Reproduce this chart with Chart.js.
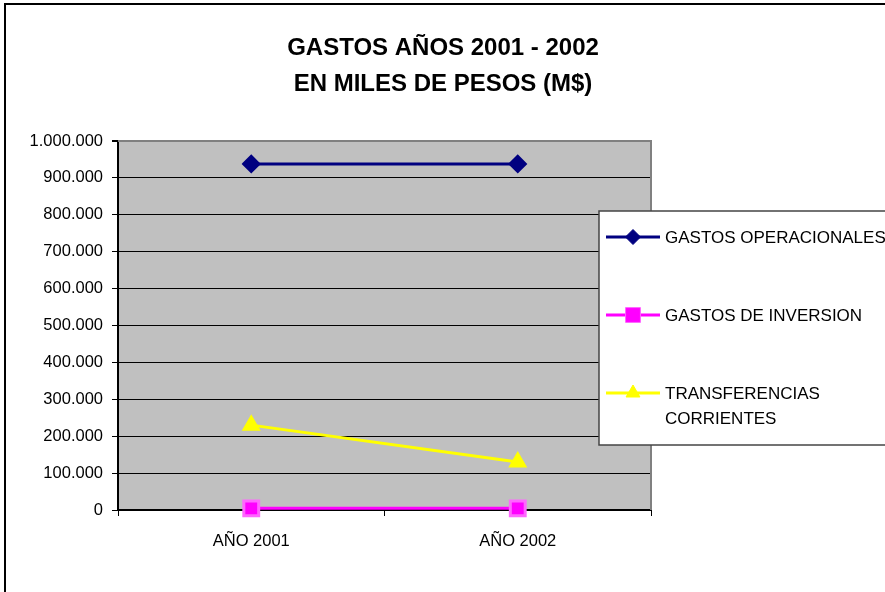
<!DOCTYPE html>
<html><head><meta charset="utf-8">
<script src="https://cdn.jsdelivr.net/npm/chart.js@4/dist/chart.umd.min.js"></script>
<style>html,body{margin:0;padding:0;background:#fff;}canvas{display:block;}</style>
</head><body>
<canvas id="c" width="885" height="592"></canvas>
<script>
const categories = ["AÑO 2001", "AÑO 2002"];
const gastosOperacionales = [938000, 938000];
const gastosInversion = [4500, 4500];
const transferenciasCorrientes = [230000, 130000];
const seriesLabels = ["GASTOS OPERACIONALES", "GASTOS DE INVERSION", ["TRANSFERENCIAS", "CORRIENTES"]];
const titleLines = ["GASTOS AÑOS 2001 - 2002", "EN MILES DE PESOS (M$)"];
const yMin = 0, yMax = 1000000, yStep = 100000;

const FONT = '"Liberation Sans", Arial, sans-serif';

const customPlugin = {
  id: 'custom',
  beforeDraw(chart) {
    const ctx = chart.ctx, a = chart.chartArea;
    ctx.save();
    ctx.fillStyle = '#fff';
    ctx.fillRect(0, 0, chart.width, chart.height);
    ctx.strokeStyle = '#000';
    ctx.lineWidth = 2;
    ctx.strokeRect(5, 4, chart.width + 20, chart.height + 20);
    ctx.fillStyle = '#c0c0c0';
    ctx.fillRect(a.left, a.top, a.right - a.left, a.bottom - a.top);
    ctx.fillStyle = '#000';
    ctx.font = 'bold 24px ' + FONT;
    ctx.textAlign = 'center';
    ctx.textBaseline = 'alphabetic';
    ctx.fillText(titleLines[0], 443, 55);
    ctx.fillText(titleLines[1], 443, 91);
    ctx.restore();
  },
  beforeDatasetsDraw(chart) {
    const ctx = chart.ctx, a = chart.chartArea;
    ctx.save();
    ctx.strokeStyle = '#808080';
    ctx.lineWidth = 2;
    ctx.beginPath();
    ctx.moveTo(a.left, a.top);
    ctx.lineTo(a.right, a.top);
    ctx.lineTo(a.right, a.bottom);
    ctx.stroke();
    ctx.restore();
  },
  afterDraw(chart) {
    const ctx = chart.ctx;
    ctx.save();
    const bx = 599, by = 211, bw = 300, bh = 234;
    ctx.fillStyle = '#fff';
    ctx.fillRect(bx, by, bw, bh);
    ctx.strokeStyle = '#444';
    ctx.lineWidth = 1.5;
    ctx.strokeRect(bx, by, bw, bh);
    const rows = [
      {y: 237, base: [243]},
      {y: 315, base: [321]},
      {y: 393, base: [399, 424]}
    ];
    chart.data.datasets.forEach((ds, i) => {
      const r = rows[i];
      ctx.strokeStyle = ds.borderColor;
      ctx.lineWidth = 3;
      ctx.beginPath();
      ctx.moveTo(606, r.y);
      ctx.lineTo(660, r.y);
      ctx.stroke();
      ctx.fillStyle = ds.pointBackgroundColor;
      ctx.strokeStyle = ds.pointBorderColor;
      ctx.lineWidth = 1;
      Chart.helpers.drawPoint(ctx, {pointStyle: ds.pointStyle, radius: ds.pointRadius, borderWidth: 1, rotation: 0}, 633, r.y);
      ctx.fillStyle = '#000';
      ctx.font = '17px ' + FONT;
      ctx.textAlign = 'left';
      ctx.textBaseline = 'alphabetic';
      const lbl = Array.isArray(ds.label) ? ds.label : [ds.label];
      lbl.forEach((t, k) => ctx.fillText(t, 665, r.base[k]));
    });
    ctx.restore();
  }
};

new Chart(document.getElementById('c'), {
  type: 'line',
  data: {
    labels: categories,
    datasets: [
      {label: seriesLabels[0], data: gastosOperacionales, borderColor: '#000080', backgroundColor: '#000080',
       pointBackgroundColor: '#000080', pointBorderColor: '#000080', pointStyle: 'rectRot', pointRadius: 7.5, borderWidth: 3, clip: false},
      {label: seriesLabels[1], data: gastosInversion, borderColor: '#ff00ff', backgroundColor: '#ff00ff',
       pointBackgroundColor: '#ff00ff', pointBorderColor: '#ff66ff', pointStyle: 'rect', pointRadius: 10.5, borderWidth: 3, clip: false},
      {label: seriesLabels[2], data: transferenciasCorrientes, borderColor: '#ffff00', backgroundColor: '#ffff00',
       pointBackgroundColor: '#ffff00', pointBorderColor: '#ffff00', pointStyle: 'triangle', pointRadius: 8, borderWidth: 3, clip: false}
    ]
  },
  options: {
    responsive: false,
    animation: false,
    layout: {padding: {top: 141, right: 234, left: 0, bottom: 0}},
    plugins: {legend: {display: false}, title: {display: false}, tooltip: {enabled: false}},
    elements: {line: {tension: 0}},
    scales: {
      x: {
        type: 'category',
        offset: true,
        afterFit: s => { s.height = 82; },
        grid: {offset: true, drawOnChartArea: false, tickLength: 6, color: '#000', tickColor: '#000', lineWidth: 1},
        border: {color: '#000', width: 2},
        ticks: {color: '#000', font: {family: FONT, size: 16.5}, padding: 16, maxRotation: 0}
      },
      y: {
        min: yMin, max: yMax,
        afterFit: s => { s.width = 118; },
        grid: {
          tickLength: 6,
          color: c => (c.tick && c.tick.value === yMax) ? '#808080' : '#000',
          lineWidth: c => (c.tick && c.tick.value === yMax) ? 2 : 1,
          tickColor: '#000'
        },
        border: {color: '#000', width: 2},
        ticks: {
          stepSize: yStep, color: '#000', padding: 9,
          font: {family: FONT, size: 16.5},
          callback: v => v.toLocaleString('de-DE')
        }
      }
    }
  },
  plugins: [customPlugin]
});
</script>
</body></html>
